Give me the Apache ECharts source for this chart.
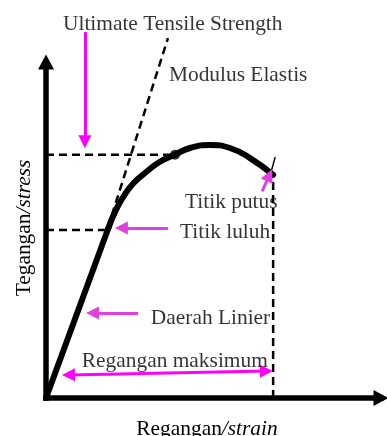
<!DOCTYPE html>
<html>
<head>
<meta charset="utf-8">
<script src="https://cdn.jsdelivr.net/npm/echarts@6/dist/echarts.min.js"></script>
<style>
html,body{margin:0;padding:0;background:#fff;}
#chart{width:387px;height:436px;}
</style>
</head>
<body>
<div id="chart"></div>
<script>
// Stress-strain curve (arbitrary units, 0..100 on both axes)
const strainLinear = [0, 18.6];
const stressLinear = [0, 50.5];
const strainPlastic = [18.6, 20.6, 23.1, 26.1, 30.1, 34.0, 38.5, 43.0, 49.0, 54.9, 60.9, 67.8];
const stressPlastic = [50.5, 55.4, 59.9, 63.9, 67.4, 70.3, 72.4, 74.4, 75.3, 74.4, 71.4, 66.4];
const utsPoint = [38.5, 72.4];
const yieldPoint = [18.4, 50.0];
const breakPoint = [67.8, 66.4];
const modulusLine = [[17.3, 47.0], [36.4, 107.1]];
const breakTangent = [[67.2, 67.3], [68.4, 71.7]];

// annotation arrows [from, to]
const arrowUTS = [[11.6, 108.9], [11.6, 76.3]];
const arrowPutus = [[64.5, 61.5], [66.7, 66.3]];
const arrowLuluh = [[36.4, 50.6], [22.5, 50.6]];
const arrowLinier = [[27.5, 25.3], [13.9, 25.3]];
const arrowMaks = [[6.7, 6.85], [65.8, 8.0]];

// annotation texts
const labelTexts = ['Ultimate Tensile Strength', 'Modulus Elastis', 'Titik putus', 'Titik luluh', 'Daerah Linier', 'Regangan maksimum'];
const labelX = [5.07, 36.7, 41.5, 40.0, 31.3, 10.7];
const labelY = [111.3, 96.1, 58.3, 49.4, 23.8, 11.0];

const xAxisName = ['Regangan', '/strain'];
const yAxisName = ['Tegangan', '/stress'];

const FONT = '"Liberation Serif", "Times New Roman", serif';
const FS = 21.4;
const MAG = '#ff00ff';
const MAG2 = '#e040e0';
const DASH = [8, 5];

function zip(a, b) { return a.map((v, i) => [v, b[i]]); }

function arrowSeries(coords, color, both) {
  return {
    type: 'lines', coordinateSystem: 'cartesian2d', clip: false, silent: true,
    symbol: both ? ['triangle', 'triangle'] : ['none', 'triangle'],
    symbolSize: 13,
    lineStyle: { color: color, width: 3, opacity: 1, curveness: 0 },
    data: [{ coords: coords }], z: 5
  };
}
function dashSeries(pts) {
  return {
    type: 'line', data: pts, symbol: 'none', clip: false, silent: true,
    lineStyle: { color: '#000', width: 2.5, type: DASH }, z: 2
  };
}

const chart = echarts.init(document.getElementById('chart'));
chart.setOption({
  animation: false,
  backgroundColor: '#fff',
  grid: { left: 46, right: 6, top: 62, bottom: 38, outerBoundsMode: 'none', containLabel: false },
  xAxis: {
    type: 'value', min: 0, max: 100,
    name: '{a|' + xAxisName[0] + '}{b|' + xAxisName[1] + '}',
    nameLocation: 'middle', nameGap: 21,
    nameTextStyle: {
      padding: [0, 13, 0, 0],
      rich: {
        a: { fontFamily: FONT, fontSize: FS, color: '#000' },
        b: { fontFamily: FONT, fontSize: FS, color: '#000', fontStyle: 'italic' }
      }
    },
    axisLine: { show: true, symbol: ['none', 'triangle'], symbolSize: [16, 15],
      lineStyle: { color: '#000', width: 5.5, cap: 'square' } },
    axisTick: { show: false }, axisLabel: { show: false }, splitLine: { show: false }
  },
  yAxis: {
    type: 'value', min: 0, max: 100,
    name: '{a|' + yAxisName[0] + '}{b|' + yAxisName[1] + '}',
    nameLocation: 'middle', nameGap: 11, nameRotate: 90,
    nameTextStyle: {
      padding: [0, 0, 0, 4],
      rich: {
        a: { fontFamily: FONT, fontSize: FS, color: '#000' },
        b: { fontFamily: FONT, fontSize: FS, color: '#000', fontStyle: 'italic' }
      }
    },
    axisLine: { show: true, symbol: ['none', 'triangle'], symbolSize: [16, 15],
      lineStyle: { color: '#000', width: 5.5, cap: 'square' } },
    axisTick: { show: false }, axisLabel: { show: false }, splitLine: { show: false }
  },
  series: [
    dashSeries([[0, utsPoint[1]], utsPoint]),
    dashSeries([[0, yieldPoint[1]], yieldPoint]),
    dashSeries([[breakPoint[0], 0], breakPoint]),
    dashSeries(modulusLine),
    {
      type: 'line', data: breakTangent, symbol: 'none', silent: true,
      lineStyle: { color: '#000', width: 1.5 }, z: 3
    },
    {
      type: 'line', data: zip(strainLinear, stressLinear), symbol: 'none', silent: true,
      lineStyle: { color: '#000', width: 6, cap: 'round' }, z: 4
    },
    {
      type: 'line', data: zip(strainPlastic, stressPlastic), symbol: 'none', smooth: 0.5, silent: true,
      lineStyle: { color: '#000', width: 6, cap: 'round' }, z: 4
    },
    {
      type: 'scatter', data: [utsPoint], symbolSize: 10, silent: true,
      itemStyle: { color: '#000' }, z: 4
    },
    arrowSeries(arrowUTS, MAG, false),
    arrowSeries(arrowPutus, MAG2, false),
    arrowSeries(arrowLuluh, MAG2, false),
    arrowSeries(arrowLinier, MAG2, false),
    arrowSeries(arrowMaks, MAG, true),
    {
      type: 'scatter', clip: false, silent: true, symbolSize: 0,
      data: labelTexts.map((t, i) => ({ value: [labelX[i], labelY[i]], name: t })),
      label: {
        show: true, position: [0, 0], align: 'left', verticalAlign: 'middle',
        formatter: p => p.name,
        fontFamily: FONT, fontSize: FS, color: '#000'
      },
      z: 6
    }
  ]
});
</script>
</body>
</html>
